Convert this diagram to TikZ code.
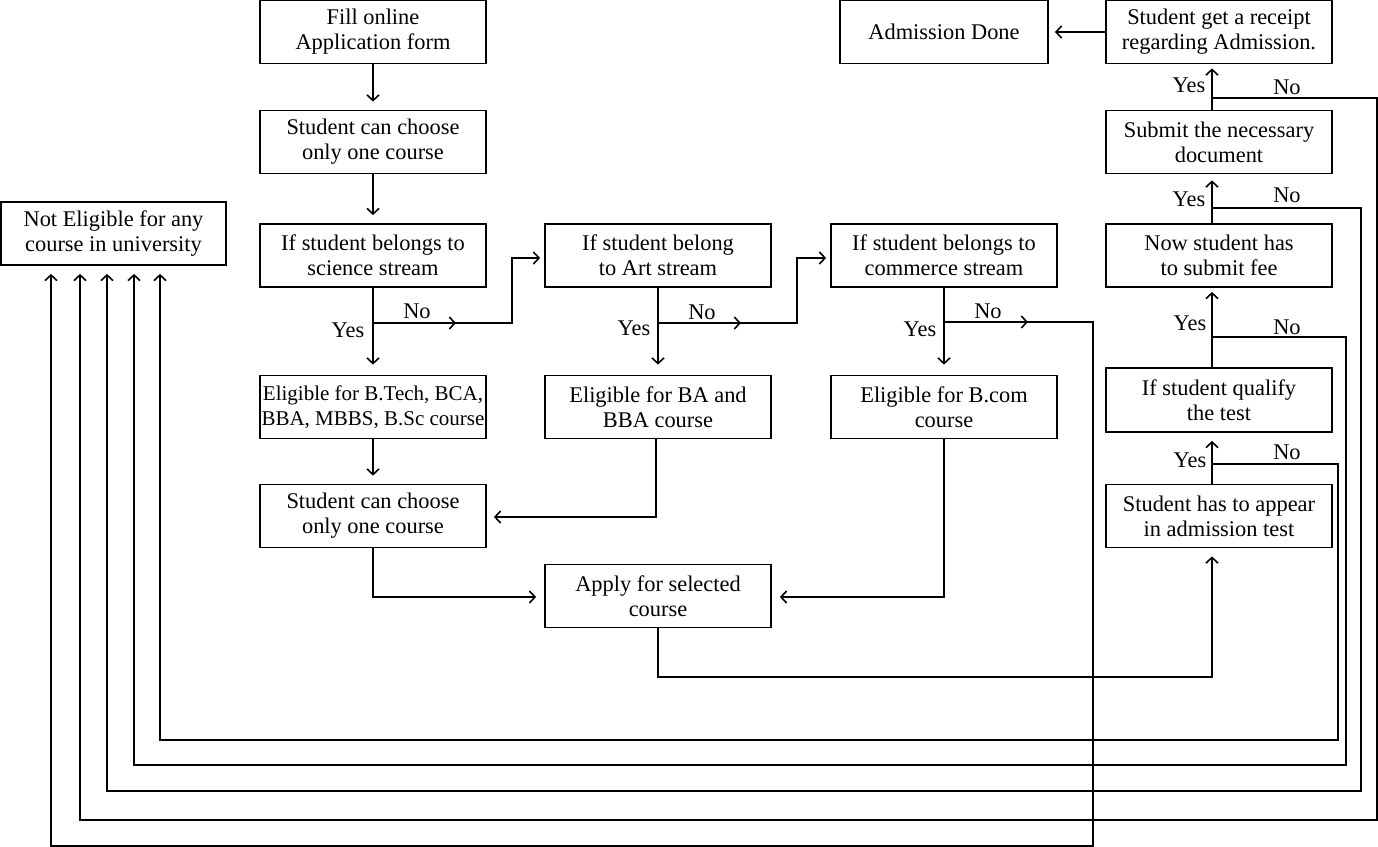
\documentclass[tikz,border=0pt]{standalone}
\usepackage{fontspec}
\setmainfont{Liberation Serif}
\usetikzlibrary{arrows.meta}
\begin{document}
\begin{tikzpicture}[x=0.5pt,y=-0.5pt,
  box/.style={draw, line width=0.9pt, minimum width=113pt, minimum height=31.5pt,
    align=center, inner sep=0pt, font=\fontsize{11.2}{12.5}\selectfont},
  con/.style={line width=0.8pt},
  arr/.style={con, -{Straight Barb[length=2.8pt,width=6pt]}},
  lbl/.style={font=\fontsize{11.2}{12}\selectfont, inner sep=0pt},
]
\useasboundingbox (0,0) rectangle (1378,847);

% boxes
\node[box] (fill) at (373,32) {Fill online\\Application form};
\node[box] (ch1) at (373,142) {Student can choose\\only one course};
\node[box] (sci) at (373,255.5) {If student belongs to\\science stream};
\node[box] (art) at (658,255.5) {If student belong\\to Art stream};
\node[box] (com) at (944,255.5) {If student belongs to\\commerce stream};
\node[box, font=\fontsize{10.5}{12.5}\selectfont] (el1) at (373,407) {Eligible for B.Tech, BCA,\\BBA, MBBS, B.Sc course};
\node[box] (el2) at (658,407) {Eligible for BA and\\BBA course};
\node[box] (el3) at (944,407) {Eligible for B.com\\course};
\node[box] (ch2) at (373,516) {Student can choose\\only one course};
\node[box] (apply) at (658,596) {Apply for selected\\course};
\node[box, minimum width=112.5pt] (ne) at (113.5,233.5) {Not Eligible for any\\course in university};
\node[box, minimum width=104pt] (done) at (944,32) {Admission Done};
\node[box] (rec) at (1219,32) {Student get a receipt\\regarding Admission.};
\node[box] (doc) at (1219,142) {Submit the necessary\\document};
\node[box] (fee) at (1219,255.5) {Now student has\\to submit fee};
\node[box, minimum height=32pt] (qu) at (1219,400) {If student qualify\\the test};
\node[box] (ap) at (1219,516) {Student has to appear\\in admission test};

% left column flow
\draw[arr, shorten >=4pt] (fill) -- (ch1);
\draw[arr, shorten >=4pt] (ch1) -- (sci);
\draw[arr, shorten >=5pt] (sci) -- (el1);
\draw[arr, shorten >=5pt] (art) -- (el2);
\draw[arr, shorten >=5pt] (com) -- (el3);
\draw[arr, shorten >=4pt] (el1) -- (ch2);

% science No branch
\coordinate (bs) at (373,323);
\coordinate (bs1) at (512,323);
\coordinate (bs2) at (512,258);
\coordinate (ms) at (456,323);
\draw[arr] (bs) -- (ms);
\draw[arr, shorten >=2pt] (bs) -- (bs1) -- (bs2) -- (art.west |- bs2);
\node[lbl] at (417,311) {No};
\node[lbl] at (348,330) {Yes};

% art No branch
\coordinate (ba) at (658,323);
\coordinate (ba1) at (797,323);
\coordinate (ba2) at (797,258);
\coordinate (ma) at (741,323);
\draw[arr] (ba) -- (ma);
\draw[arr, shorten >=2pt] (ba) -- (ba1) -- (ba2) -- (com.west |- ba2);
\node[lbl] at (702,312) {No};
\node[lbl] at (634,328) {Yes};

% commerce No branch
\coordinate (bc) at (944,322);
\coordinate (bc1) at (1093,322);
\coordinate (bc2) at (1093,846);
\coordinate (bc3) at (51,846);
\coordinate (mc) at (1028,322);
\draw[arr] (bc) -- (mc);
\draw[arr, shorten >=4pt] (bc) -- (bc1) -- (bc2) -- (bc3) -- (ne.south -| bc3);
\node[lbl] at (988,311) {No};
\node[lbl] at (920,329) {Yes};

% to second choose / apply
\coordinate (a1) at (656,517);
\draw[arr, shorten >=3.5pt] (el2.south -| a1) -- (a1) -- (ch2.east |- a1);
\coordinate (a2) at (373,597);
\draw[arr, shorten >=4pt] (ch2) -- (a2) -- (apply.west |- a2);
\coordinate (a3) at (944,597);
\draw[arr, shorten >=4pt] (el3) -- (a3) -- (apply.east |- a3);
\coordinate (a4) at (658,677);
\coordinate (a5) at (1212,677);
\draw[arr, shorten >=4pt] (apply) -- (a4) -- (a5) -- (ap.south -| a5);

% right column flow
\coordinate (v) at (1212,0);
\draw[arr, shorten >=4pt] (ap.north -| v) -- (qu.south -| v);
\draw[arr, shorten >=2pt] (qu.north -| v) -- (fee.south -| v);
\draw[arr, shorten >=3pt] (fee.north -| v) -- (doc.south -| v);
\draw[arr, shorten >=2pt] (doc.north -| v) -- (rec.south -| v);
\draw[arr, shorten >=3pt] (rec) -- (done);

% No loops from right column
\coordinate (q0) at (1212,464);
\coordinate (q1) at (1338,464);
\coordinate (q2) at (1338,740);
\coordinate (q3) at (160,740);
\draw[arr, shorten >=4pt] (q0) -- (q1) -- (q2) -- (q3) -- (ne.south -| q3);
\node[lbl] at (1190,460) {Yes};
\node[lbl] at (1287,452) {No};

\coordinate (f0) at (1212,337);
\coordinate (f1) at (1346,337);
\coordinate (f2) at (1346,765);
\coordinate (f3) at (134,765);
\draw[arr, shorten >=4pt] (f0) -- (f1) -- (f2) -- (f3) -- (ne.south -| f3);
\node[lbl] at (1190,323) {Yes};
\node[lbl] at (1287,327) {No};

\coordinate (d0) at (1212,208);
\coordinate (d1) at (1361,208);
\coordinate (d2) at (1361,791);
\coordinate (d3) at (107,791);
\draw[arr, shorten >=4pt] (d0) -- (d1) -- (d2) -- (d3) -- (ne.south -| d3);
\node[lbl] at (1189,199) {Yes};
\node[lbl] at (1287,195) {No};

\coordinate (r0) at (1212,98);
\coordinate (r1) at (1377,98);
\coordinate (r2) at (1377,820);
\coordinate (r3) at (80,820);
\draw[arr, shorten >=4pt] (r0) -- (r1) -- (r2) -- (r3) -- (ne.south -| r3);
\node[lbl] at (1189,85) {Yes};
\node[lbl] at (1287,87) {No};
\end{tikzpicture}
\end{document}
